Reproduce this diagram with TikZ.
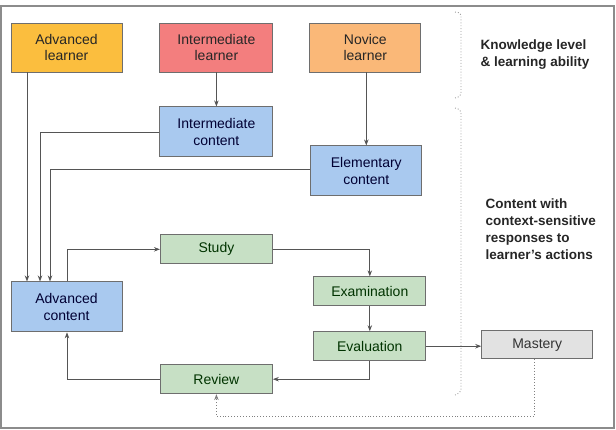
\documentclass[tikz,border=0pt]{standalone}
\usepackage{fontspec}
\setmainfont{Liberation Sans}
\usepackage{tikz}
\usetikzlibrary{arrows.meta, positioning, calc}

\definecolor{advgold}{HTML}{FBBE3E}
\definecolor{intred}{HTML}{F37E7E}
\definecolor{novorange}{HTML}{FAB878}
\definecolor{contblue}{HTML}{A9C9EF}
\definecolor{stepgreen}{HTML}{C7E0C5}
\definecolor{mastgray}{HTML}{E2E2E2}
\definecolor{edgegray}{HTML}{6E6E6E}
\definecolor{linegray}{HTML}{555555}

\begin{document}
\begin{tikzpicture}[
    x=1pt, y=-1pt,
    >={Stealth[length=6pt,width=4.5pt]},
    node distance=36pt,
    learnerbox/.style={draw=edgegray, line width=0.9pt, minimum width=111pt, minimum height=49pt, align=center, inner sep=2pt, font=\fontsize{14}{16.5}\selectfont, text=black!85},
    contentbox/.style={learnerbox, fill=contblue, minimum height=50pt, text={black!80!blue}},
    stepbox/.style={draw=edgegray, line width=0.9pt, fill=stepgreen, minimum width=112pt, minimum height=29pt, inner sep=2pt, font=\fontsize{14}{16.5}\selectfont, text={black!80!green}},
    arr/.style={->, line width=0.8pt, draw=linegray},
    dotarr/.style={->, line width=0.9pt, draw=gray, dotted},
    brace/.style={line width=0.9pt, draw=gray!80, dotted, rounded corners=2pt},
    sidenote/.style={align=left, anchor=west, font=\fontsize{13.5}{17}\selectfont\bfseries, text=black!85},
]
\useasboundingbox (0,0) rectangle (616,429);
\draw[gray!90, line width=1.3pt] (1,6) rectangle (614,428);

% === Learners (top row) ===
\node[learnerbox, fill=advgold] (advl) at (66.5,47.5) {Advanced\\learner};
\node[learnerbox, fill=intred, minimum width=113pt, right=37pt of advl] (intl) {Intermediate\\learner};
\node[learnerbox, fill=novorange, right=36pt of intl] (novl) {Novice\\learner};

% === Content levels ===
\node[contentbox, minimum width=113pt, below=34pt of intl] (intc) {Intermediate\\content};
\node[contentbox, below=73pt of novl, xshift=1pt] (elemc) {Elementary\\content};
\node[contentbox, below=209pt of advl] (advc) {Advanced\\content};

\draw[arr] (intl) -- (intc);
\draw[arr] (novl.south -| elemc) -- (elemc);

% === Learning cycle ===
\node[stepbox, below=77pt of intc] (study) {Study};
\node[stepbox, below=100pt of study] (review) {Review};
\node[stepbox, below=80pt of elemc, xshift=3.5pt] (exam) {Examination};
\node[stepbox, below=25pt of exam] (eval) {Evaluation};
\node[stepbox, fill=mastgray, minimum width=111pt, minimum height=28pt, text=black!80, right=55pt of eval, yshift=1.5pt] (mastery) {Mastery};

% === Routes into advanced content ===
\draw[arr] ([xshift=-39.5pt]advl.south) -- ([xshift=-39.5pt]advc.north);
\draw[arr] (intc.west) -| ([xshift=-26.5pt]advc.north);
\draw[arr] ([yshift=2pt]elemc.west) -| ([xshift=-16.5pt]advc.north);

\draw[arr] ([xshift=0.5pt]advc.north) |- (study.west);
\draw[arr] (study.east) -| (exam.north);
\draw[arr] (exam) -- (eval);
\draw[arr] (eval.south) |- (review.east);
\draw[arr] (review.west) -| ([xshift=0.5pt]advc.south);
\draw[arr] (eval.east) -- (eval.east -| mastery.west);

\coordinate (mcorner) at ($(mastery.south)+(-2.5,57)$);
\draw[dotarr] ([xshift=-2.5pt]mastery.south) -- (mcorner) -| (review.south);

% === Side brackets and notes ===
\draw[brace] (455,12) -- (461,13) -- (461,96) -- (455,98);
\draw[brace] (455,108) -- (461,110) -- (461,392) -- (455,395);

\node[sidenote] (knownote) at (477,55) {Knowledge level\\\& learning ability};
\node[sidenote] (contnote) at (482,229) {Content with\\context-sensitive\\responses to\\learner's actions};

\end{tikzpicture}
\end{document}
